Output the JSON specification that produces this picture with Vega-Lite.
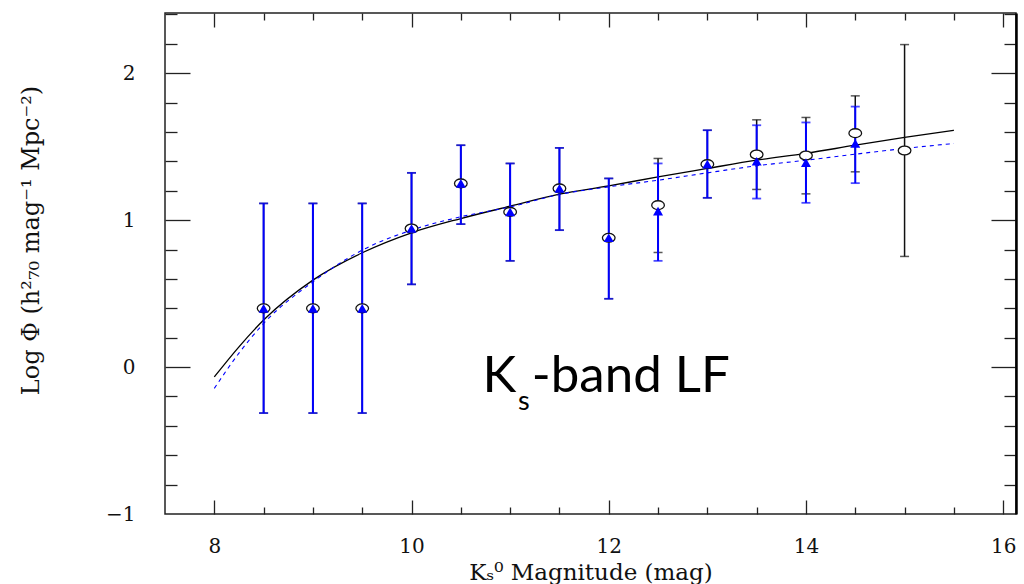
{
  "$schema": "https://vega.github.io/schema/vega-lite/v6.json",
  "width": 851,
  "height": 501,
  "autosize": {"type": "none"},
  "padding": {"left": 165, "top": 13, "right": 8, "bottom": 70},
  "background": "white",
  "config": {
    "view": {"stroke": "#222", "strokeWidth": 1.5},
    "axis": {"grid": false, "titleFontWeight": "normal", "labelFont": "DejaVu Serif", "titleFont": "DejaVu Serif", "labelColor": "#111", "titleColor": "#111", "tickColor": "#222"}
  },
  "datasets": {
    "fitAll": [
      {"mag": 8.0, "logphi": -0.067}, {"mag": 8.25, "logphi": 0.138}, {"mag": 8.5, "logphi": 0.32},
      {"mag": 9.0, "logphi": 0.592}, {"mag": 9.5, "logphi": 0.778}, {"mag": 10.0, "logphi": 0.914},
      {"mag": 10.5, "logphi": 1.011}, {"mag": 11.0, "logphi": 1.095}, {"mag": 11.5, "logphi": 1.177},
      {"mag": 12.0, "logphi": 1.233}, {"mag": 12.5, "logphi": 1.295}, {"mag": 13.0, "logphi": 1.352},
      {"mag": 13.5, "logphi": 1.408}, {"mag": 14.0, "logphi": 1.455}, {"mag": 14.5, "logphi": 1.51},
      {"mag": 15.0, "logphi": 1.563}, {"mag": 15.5, "logphi": 1.612}
    ],
    "fitSub": [
      {"mag": 8.0, "logphi": -0.145}, {"mag": 8.25, "logphi": 0.095}, {"mag": 8.5, "logphi": 0.297},
      {"mag": 9.0, "logphi": 0.58}, {"mag": 9.5, "logphi": 0.796}, {"mag": 10.0, "logphi": 0.932},
      {"mag": 10.5, "logphi": 1.023}, {"mag": 11.0, "logphi": 1.09}, {"mag": 11.5, "logphi": 1.175},
      {"mag": 12.0, "logphi": 1.227}, {"mag": 12.5, "logphi": 1.272}, {"mag": 13.0, "logphi": 1.322},
      {"mag": 13.5, "logphi": 1.37}, {"mag": 14.0, "logphi": 1.408}, {"mag": 14.5, "logphi": 1.449},
      {"mag": 15.0, "logphi": 1.488}, {"mag": 15.5, "logphi": 1.522}
    ],
    "all": [
      {"mag": 8.5, "logphi": 0.40, "lo": -0.313, "hi": 1.114},
      {"mag": 9.0, "logphi": 0.40, "lo": -0.313, "hi": 1.114},
      {"mag": 9.5, "logphi": 0.40, "lo": -0.313, "hi": 1.114},
      {"mag": 10.0, "logphi": 0.943, "lo": 0.563, "hi": 1.322},
      {"mag": 10.5, "logphi": 1.25, "lo": 0.973, "hi": 1.51},
      {"mag": 11.0, "logphi": 1.056, "lo": 0.723, "hi": 1.386},
      {"mag": 11.5, "logphi": 1.216, "lo": 0.932, "hi": 1.492},
      {"mag": 12.0, "logphi": 0.88, "lo": 0.465, "hi": 1.284},
      {"mag": 12.5, "logphi": 1.102, "lo": 0.78, "hi": 1.42},
      {"mag": 13.0, "logphi": 1.381, "lo": 1.152, "hi": 1.612},
      {"mag": 13.5, "logphi": 1.447, "lo": 1.209, "hi": 1.683},
      {"mag": 14.0, "logphi": 1.44, "lo": 1.179, "hi": 1.699},
      {"mag": 14.5, "logphi": 1.592, "lo": 1.329, "hi": 1.846},
      {"mag": 15.0, "logphi": 1.474, "lo": 0.753, "hi": 2.195}
    ],
    "sub": [
      {"mag": 8.5, "logphi": 0.40, "lo": -0.313, "hi": 1.114},
      {"mag": 9.0, "logphi": 0.40, "lo": -0.313, "hi": 1.114},
      {"mag": 9.5, "logphi": 0.40, "lo": -0.313, "hi": 1.114},
      {"mag": 10.0, "logphi": 0.943, "lo": 0.563, "hi": 1.322},
      {"mag": 10.5, "logphi": 1.25, "lo": 0.973, "hi": 1.51},
      {"mag": 11.0, "logphi": 1.056, "lo": 0.723, "hi": 1.386},
      {"mag": 11.5, "logphi": 1.216, "lo": 0.932, "hi": 1.492},
      {"mag": 12.0, "logphi": 0.88, "lo": 0.465, "hi": 1.284},
      {"mag": 12.5, "logphi": 1.061, "lo": 0.723, "hi": 1.386},
      {"mag": 13.0, "logphi": 1.381, "lo": 1.152, "hi": 1.612},
      {"mag": 13.5, "logphi": 1.401, "lo": 1.147, "hi": 1.646},
      {"mag": 14.0, "logphi": 1.392, "lo": 1.118, "hi": 1.665},
      {"mag": 14.5, "logphi": 1.522, "lo": 1.252, "hi": 1.773}
    ],
    "annot": [
      {"part": "K", "mag": 10.72, "logphi": -0.168},
      {"part": "s", "mag": 11.08, "logphi": -0.293},
      {"part": "-band LF", "mag": 11.22, "logphi": -0.168}
    ]
  },
  "resolve": {"axis": {"x": "independent", "y": "independent"}},
  "layer": [
    {
      "data": {"name": "fitAll"},
      "mark": {"type": "line", "color": "#000", "strokeWidth": 1.3, "interpolate": "monotone"},
      "encoding": {
        "x": {"field": "mag", "type": "quantitative", "scale": {"domain": [7.5, 16.13], "nice": false, "zero": false},
          "axis": {"orient": "bottom", "title": "K\u209b\u2070 Magnitude (mag)", "ticks": false, "domain": false, "values": [8, 10, 12, 14, 16], "format": "d",
            "labelFontSize": 20, "labelPadding": 22, "titleFontSize": 23, "titleY": 65, "titleBaseline": "alphabetic"}},
        "y": {"field": "logphi", "type": "quantitative", "scale": {"domain": [-1, 2.41], "nice": false, "zero": false},
          "axis": {"orient": "left", "title": "Log \u03a6 (h\u00b2\u2087\u2080 mag\u207b\u00b9 Mpc\u207b\u00b2)", "ticks": false, "domain": false, "values": [-1, 0, 1, 2], "format": "d",
            "labelFontSize": 20, "labelPadding": 30, "labelBaseline": "middle", "titleFontSize": 24, "titleX": -127, "titleY": 227, "titleAngle": -90, "titleAlign": "center", "titleBaseline": "alphabetic"}}
      }
    },
    {
      "data": {"name": "fitSub"},
      "mark": {"type": "line", "color": "#0000ff", "strokeWidth": 1.1, "strokeDash": [4, 4], "interpolate": "monotone"},
      "encoding": {
        "x": {"field": "mag", "type": "quantitative",
          "axis": {"orient": "bottom", "title": null, "labels": false, "domain": false, "values": [8, 8.5, 9, 9.5, 10, 10.5, 11, 11.5, 12, 12.5, 13, 13.5, 14, 14.5, 15, 15.5, 16],
            "tickWidth": 1.3, "tickSize": {"condition": {"test": "datum.value % 2 === 0", "value": -14}, "value": -7}}},
        "y": {"field": "logphi", "type": "quantitative",
          "axis": {"orient": "left", "title": null, "labels": false, "domain": false, "values": [-0.8, -0.6, -0.4, -0.2, 0, 0.2, 0.4, 0.6, 0.8, 1, 1.2, 1.4, 1.6, 1.8, 2, 2.2, 2.4],
            "tickWidth": 1.3, "tickSize": {"condition": {"test": "abs(datum.value - round(datum.value)) < 0.001", "value": -25}, "value": -12}}}
      }
    },
    {
      "data": {"name": "all"},
      "mark": {"type": "errorbar", "color": "#111", "thickness": 1.5, "ticks": {"size": 9, "thickness": 1.5, "color": "#111"}},
      "encoding": {
        "x": {"field": "mag", "type": "quantitative",
          "axis": {"orient": "top", "title": null, "labels": false, "domain": false, "values": [8, 8.5, 9, 9.5, 10, 10.5, 11, 11.5, 12, 12.5, 13, 13.5, 14, 14.5, 15, 15.5, 16],
            "tickWidth": 1.3, "tickSize": {"condition": {"test": "datum.value % 2 === 0", "value": -14}, "value": -7}}},
        "y": {"field": "lo", "type": "quantitative",
          "axis": {"orient": "right", "title": null, "labels": false, "domain": true, "domainColor": "#000", "domainWidth": 2.5, "values": [-0.8, -0.6, -0.4, -0.2, 0, 0.2, 0.4, 0.6, 0.8, 1, 1.2, 1.4, 1.6, 1.8, 2, 2.2, 2.4],
            "tickWidth": 1.3, "tickSize": {"condition": {"test": "abs(datum.value - round(datum.value)) < 0.001", "value": -25}, "value": -12}}},
        "y2": {"field": "hi"}
      }
    },
    {
      "data": {"name": "sub"},
      "mark": {"type": "errorbar", "color": "#0000ff", "thickness": 2, "ticks": {"size": 9, "thickness": 1.8, "color": "#0000ff"}},
      "encoding": {
        "x": {"field": "mag", "type": "quantitative", "axis": null},
        "y": {"field": "lo", "type": "quantitative", "axis": null},
        "y2": {"field": "hi"}
      }
    },
    {
      "data": {"name": "all"},
      "mark": {"type": "point", "shape": "M -1 0 A 1 0.7 0 1 1 1 0 A 1 0.7 0 1 1 -1 0 Z", "size": 160, "filled": false, "fill": "white", "fillOpacity": 1, "stroke": "#111", "strokeWidth": 1.3, "opacity": 1},
      "encoding": {
        "x": {"field": "mag", "type": "quantitative", "axis": null},
        "y": {"field": "logphi", "type": "quantitative", "axis": null}
      }
    },
    {
      "data": {"name": "sub"},
      "mark": {"type": "point", "shape": "triangle-up", "size": 100, "filled": true, "color": "#0000ff", "opacity": 1},
      "encoding": {
        "x": {"field": "mag", "type": "quantitative", "axis": null},
        "y": {"field": "logphi", "type": "quantitative", "axis": null}
      }
    },
    {
      "data": {"name": "annot"},
      "transform": [{"filter": "datum.part !== 's'"}],
      "mark": {"type": "text", "font": "Lato", "fontSize": 51, "align": "left", "baseline": "alphabetic", "color": "#000"},
      "encoding": {
        "x": {"field": "mag", "type": "quantitative", "axis": null},
        "y": {"field": "logphi", "type": "quantitative", "axis": null},
        "text": {"field": "part"}
      }
    },
    {
      "data": {"name": "annot"},
      "transform": [{"filter": "datum.part === 's'"}],
      "mark": {"type": "text", "font": "Lato", "fontSize": 27, "align": "left", "baseline": "alphabetic", "color": "#000"},
      "encoding": {
        "x": {"field": "mag", "type": "quantitative", "axis": null},
        "y": {"field": "logphi", "type": "quantitative", "axis": null},
        "text": {"field": "part"}
      }
    }
  ]
}
